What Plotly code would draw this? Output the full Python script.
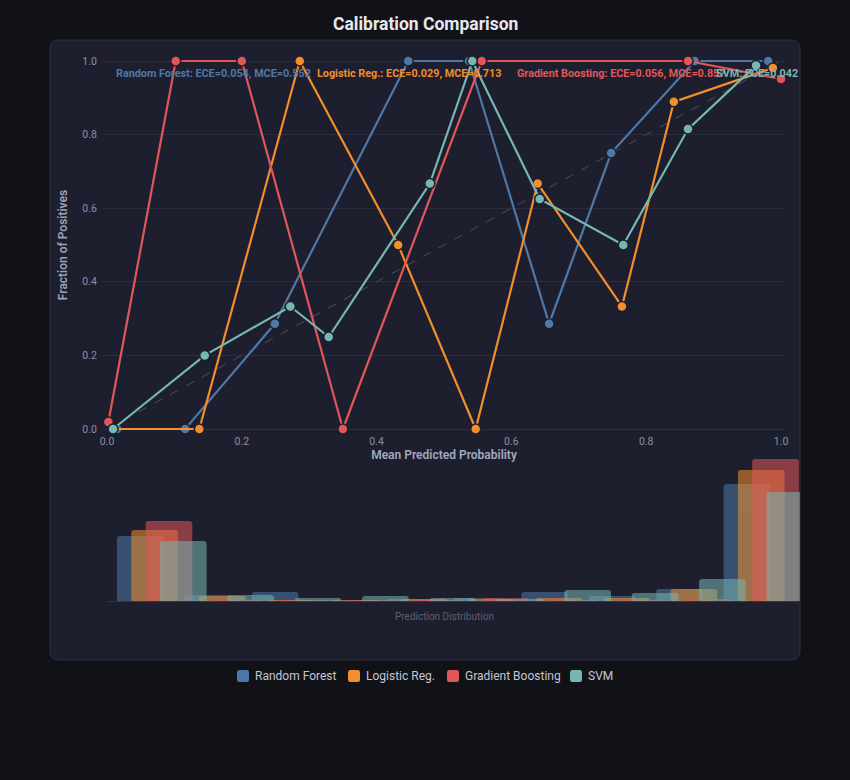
import plotly.graph_objects as go

# ---------------- data ----------------
models = ["Random Forest", "Logistic Reg.", "Gradient Boosting", "SVM"]

rf_x = [0.015, 0.116, 0.249, 0.447, 0.537, 0.656, 0.748, 0.872, 0.981]
rf_y = [0.0, 0.0, 0.286, 1.0, 1.0, 0.286, 0.75, 1.0, 1.0]

lr_x = [0.008, 0.137, 0.286, 0.432, 0.547, 0.639, 0.764, 0.841, 0.988]
lr_y = [0.0, 0.0, 1.0, 0.5, 0.0, 0.667, 0.333, 0.889, 0.981]

gb_x = [0.002, 0.102, 0.200, 0.350, 0.556, 0.862, 1.0]
gb_y = [0.019, 1.0, 1.0, 0.0, 1.0, 1.0, 0.951]

svm_x = [0.009, 0.145, 0.272, 0.329, 0.479, 0.542, 0.642, 0.766, 0.862, 0.963]
svm_y = [0.0, 0.2, 0.333, 0.25, 0.667, 1.0, 0.625, 0.5, 0.815, 0.988]

bin_left = [0.0, 0.1, 0.2, 0.3, 0.4, 0.5, 0.6, 0.7, 0.8, 0.9]
hist_rf = [65, 6, 9, 1, 2, 3, 9, 5, 12, 117]
hist_lr = [71, 5, 1, 1, 2, 2, 3, 3, 12, 131]
hist_gb = [80, 1, 1, 1, 1, 3, 1, 1, 2, 142]
hist_svm = [60, 6, 3, 5, 3, 2, 11, 8, 22, 109]

ece = [0.054, 0.029, 0.056, 0.042]
mce = [0.552, 0.713, 0.857, None]

colors = ["#4e79a7", "#f28e2b", "#e15759", "#76b7b2"]

# ---------------- helpers ----------------
W, H = 850, 780
def px(x):
    return x / W
def py(y):
    return 1 - y / H

PANEL = "#1e1f2e"
PADX = 4 / 674   # small padding so lines on the 0/1 edges are not clipped
PADY = 4 / 368

fig = go.Figure()

# diagonal reference
fig.add_trace(go.Scatter(x=[0, 1], y=[0, 1], mode="lines",
                         line=dict(color="#4b4e60", width=1, dash="dash"),
                         showlegend=False, hoverinfo="skip"))

curves = [(rf_x, rf_y), (lr_x, lr_y), (gb_x, gb_y), (svm_x, svm_y)]
for name, (xs, ys), col in zip(models, curves, colors):
    fig.add_trace(go.Scatter(
        x=xs, y=ys, mode="lines+markers", name=name, legendgroup=name,
        line=dict(color=col, width=2.2),
        marker=dict(size=10, color=col, line=dict(color=PANEL, width=1.5)),
        cliponaxis=False, showlegend=False))

hists = [hist_rf, hist_lr, hist_gb, hist_svm]
bw = 46.7 / 674
for k, (name, h, col) in enumerate(zip(models, hists, colors)):
    fig.add_trace(go.Bar(
        x=bin_left, y=h, name=name, legendgroup=name,
        offset=10 / 674 + k * 14.3 / 674, width=bw,
        marker=dict(color=col, line=dict(width=0)), opacity=0.55,
        xaxis="x2", yaxis="y2", showlegend=False))

# rounded rect path in paper coords
def rrect(x0, y0, x1, y1, r):
    p = []
    p.append(f"M{px(x0 + r)},{py(y0)}")
    p.append(f"L{px(x1 - r)},{py(y0)}")
    p.append(f"Q{px(x1)},{py(y0)} {px(x1)},{py(y0 + r)}")
    p.append(f"L{px(x1)},{py(y1 - r)}")
    p.append(f"Q{px(x1)},{py(y1)} {px(x1 - r)},{py(y1)}")
    p.append(f"L{px(x0 + r)},{py(y1)}")
    p.append(f"Q{px(x0)},{py(y1)} {px(x0)},{py(y1 - r)}")
    p.append(f"L{px(x0)},{py(y0 + r)}")
    p.append(f"Q{px(x0)},{py(y0)} {px(x0 + r)},{py(y0)}")
    p.append("Z")
    return " ".join(p)

shapes = [dict(type="path", xref="paper", yref="paper", layer="below",
               path=rrect(50, 40, 800, 660, 9),
               fillcolor=PANEL, line=dict(color="#2c2e3f", width=1))]

annotations = [dict(text="Calibration Comparison", x=0.5, y=py(24),
                    xref="paper", yref="paper", xanchor="center", yanchor="middle",
                    showarrow=False,
                    font=dict(size=17.5, color="#e6e8ee", weight="bold"))]

metric_x = [114, 315, 515, 714]
for name, e, m, col, mx in zip(models, ece, mce, colors, metric_x):
    txt = f"{name}: ECE={e:.3f}" + (f", MCE={m:.3f}" if m is not None else "")
    annotations.append(dict(text=txt, x=px(mx), y=py(73), xref="paper", yref="paper",
                            xanchor="left", yanchor="middle", showarrow=False,
                            font=dict(size=10.8, color=col, weight="bold")))

annotations.append(dict(text="Prediction Distribution", x=px(444), y=py(616),
                        xref="paper", yref="paper", xanchor="center", yanchor="middle",
                        showarrow=False, font=dict(size=10, color="#5c6075")))

# legend (drawn as swatches + text)
leg_sym_x = [237, 348, 447, 570]
for name, col, lx in zip(models, colors, leg_sym_x):
    shapes.append(dict(type="path", xref="paper", yref="paper", layer="above",
                       path=rrect(lx, 670, lx + 12, 682, 2.5),
                       fillcolor=col, line=dict(width=0)))
    annotations.append(dict(text=name, x=px(lx + 16), y=py(676), xref="paper",
                            yref="paper", xanchor="left", yanchor="middle",
                            showarrow=False,
                            font=dict(size=12, color="#c3c7d4")))

fig.update_layout(
    width=W, height=H,
    margin=dict(l=0, r=0, t=0, b=0, pad=0, autoexpand=False),
    paper_bgcolor="#111218", plot_bgcolor="rgba(0,0,0,0)",
    font=dict(family="Roboto", color="#8b90a5"),
    barmode="overlay", barcornerradius=3, showlegend=False,
    xaxis=dict(domain=[px(107 - 4), px(781 + 4)], range=[-PADX, 1 + PADX],
               dtick=0.2, tick0=0,
               tickformat=".1f", showgrid=False, zeroline=False, showline=False,
               ticks="", ticklen=0,
               tickfont=dict(size=10.5, color="#8b90a5"),
               title=dict(text="Mean Predicted Probability", standoff=4,
                          font=dict(size=12, color="#a3a9bd", weight=600)),
               anchor="y", automargin=False),
    yaxis=dict(domain=[py(429 + 4), py(61 - 4)], range=[-PADY, 1 + PADY],
               dtick=0.2, tick0=0,
               tickformat=".1f", showgrid=True, gridcolor="#2b2c3c", gridwidth=1,
               zeroline=True, zerolinecolor="#2f3143", zerolinewidth=1,
               showline=False, ticks="outside", ticklen=3, tickcolor="rgba(0,0,0,0)",
               tickfont=dict(size=10.5, color="#8b90a5"),
               title=dict(text="Fraction of Positives", standoff=12,
                          font=dict(size=12, color="#9ca2b6", weight=600)),
               anchor="x", automargin=False),
    xaxis2=dict(domain=[px(107), px(800)], range=[0, 693 / 674],
                showticklabels=False, showgrid=False, zeroline=False,
                showline=True, linecolor="#33354a", linewidth=1, ticks="",
                anchor="y2", automargin=False),
    yaxis2=dict(domain=[py(601), py(459)], range=[0, 142], visible=False,
                anchor="x2", automargin=False),
    shapes=shapes,
    annotations=annotations,
)

fig.write_html("out.html",
               post_script="document.body.style.margin='0';"
                           "document.body.style.background='#111218';")
